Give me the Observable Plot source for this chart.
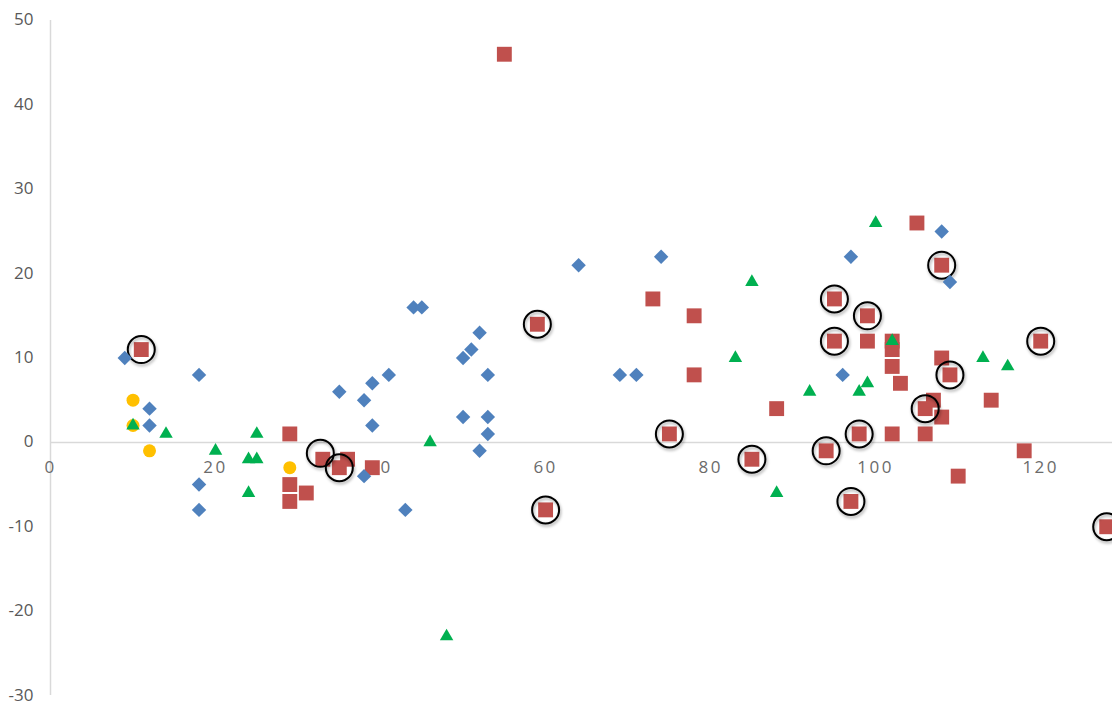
<!DOCTYPE html>
<html>
<head>
<meta charset="utf-8">
<script src="https://cdn.jsdelivr.net/npm/d3@7"></script>
<script src="https://cdn.jsdelivr.net/npm/@observablehq/plot@0.6"></script>
<style>
  html, body { margin: 0; padding: 0; background: #fff; }
  #chart { width: 1112px; height: 702px; overflow: hidden; }
</style>
</head>
<body>
<div id="chart"></div>
<script>
// Blue diamonds
const blueX = [9,12,12,18,18,18,35,38,39,41,39,38,44,45,43,50,51,52,53,50,53,53,52,64,74,69,71,97,108,109,96];
const blueY = [10,4,2,8,-5,-8,6,5,7,8,2,-4,16,16,-8,10,11,13,8,3,3,1,-1,21,22,8,8,22,25,19,8];
// Red squares
const redX = [11,29,29,29,31,33,35,36,39,55,59,60,73,75,78,78,85,88,94,95,95,97,98,99,99,102,102,102,102,103,105,106,106,107,108,108,108,109,110,114,118,120,128];
const redY = [11,1,-5,-7,-6,-2,-3,-2,-3,46,14,-8,17,1,15,8,-2,4,-1,17,12,-7,1,15,12,12,11,9,1,7,26,4,1,5,21,10,3,8,-4,5,-1,12,-10];
// Green triangles
const greenX = [10,14,20,24,25,25,24,46,48,83,85,88,92,98,99,100,102,113,116];
const greenY = [2,1,-1,-2,-2,1,-6,0,-23,10,19,-6,6,6,7,26,12,10,9];
// Yellow circles
const yellowX = [10,10,12,29];
const yellowY = [5,2,-1,-3];
// Highlight rings
const ringX = [11,32.7,35,59,60,75,85,94,95,95,97,98,99,106,108,109,120,128];
const ringY = [11,-1.3,-3,14,-8,1,-2,-1,17,12,-7,1,15,4,21,8,12,-10];
// Tick labels
const xTicks = [0,20,40,60,80,100,120];
const yTicks = [50,40,30,20,10,0,-10,-20];
const yTickBottom = [-30];

const pts = (xs, ys) => xs.map((x, i) => ({x, y: ys[i]}));

const chart = Plot.plot({
  width: 1112,
  height: 702,
  marginLeft: 50,
  marginRight: 0,
  marginTop: 20,
  marginBottom: 7,
  x: {domain: [0, 128.7], axis: null},
  y: {domain: [-30, 50], axis: null},
  style: {fontFamily: "'Open Sans', sans-serif", fontSize: "17px", background: "#fff", overflow: "visible"},
  marks: [
    Plot.ruleX([0], {stroke: "#d9d9d9", strokeWidth: 1.5}),
    Plot.ruleY([0], {stroke: "#d9d9d9", strokeWidth: 1.5}),
    Plot.text(yTicks, {y: d => d, frameAnchor: "left", dx: -17, dy: -0.5, textAnchor: "end", text: d => String(d), fill: "#595959"}),
    Plot.text(xTicks, {x: d => d, y: 0, dy: 25, text: d => String(d), fill: "#6b6b6b"}),
    Plot.text(yTickBottom, {y: d => d, frameAnchor: "left", dx: -17, dy: 5, lineAnchor: "bottom", textAnchor: "end", text: d => String(d), fill: "#595959"}),
    Plot.dot(pts(redX, redY), {x: "x", y: "y", symbol: "square", r: 8.4, fill: "#C0504D"}),
    Plot.dot(pts(yellowX, yellowY), {x: "x", y: "y", symbol: "circle", r: 6.5, fill: "#FFC000"}),
    Plot.dot(pts(greenX, greenY), {x: "x", y: "y", symbol: "triangle", r: 5, fill: "#00B050"}),
    Plot.dot(pts(ringX, ringY), {x: "x", y: "y", r: 13.5, fill: "none", stroke: "#000", strokeWidth: 2}),
    Plot.dot(pts(blueX, blueY), {x: "x", y: "y", symbol: "diamond2", r: 6.5, fill: "#4F81BD"})
  ]
});

document.getElementById("chart").appendChild(chart);

// letter-spaced x tick labels, shadowed rings
const textGroups = chart.querySelectorAll('g[aria-label="text"]');
if (textGroups[1]) textGroups[1].querySelectorAll("text").forEach(t => t.setAttribute("letter-spacing", "2.5"));
const dotGroups = chart.querySelectorAll('g[aria-label="dot"]');
if (dotGroups[3]) dotGroups[3].style.filter = "drop-shadow(1.5px 2.5px 1.5px rgba(0,0,0,0.35))";
</script>
</body>
</html>
